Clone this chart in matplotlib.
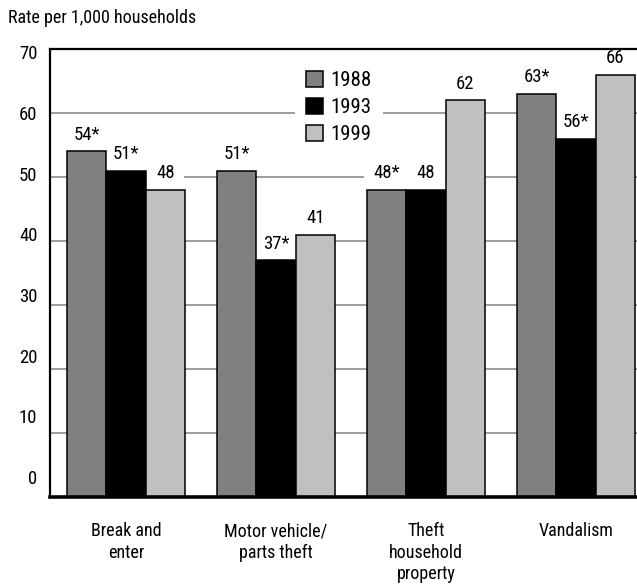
import numpy as np
import matplotlib
matplotlib.use("Agg")
import matplotlib.pyplot as plt
from matplotlib import font_manager

# prefer a narrow sans face when one is installed
installed = {f.name for f in font_manager.fontManager.ttflist}
family = "Liberation Sans"
for cand in ["Liberation Sans Narrow", "Roboto Condensed", "Open Sans Condensed",
             "Arial Narrow", "Nimbus Sans Narrow"]:
    if cand in installed:
        family = cand
        break
else:
    cond = [f for f in font_manager.fontManager.ttflist
            if f.name == "DejaVu Sans" and str(f.stretch) in ("condensed", "semi-condensed", "500")]
    if cond:
        family = "DejaVu Sans"
        plt.rcParams['font.stretch'] = "condensed"
plt.rcParams['font.family'] = [family, 'DejaVu Sans']

# Household victimization rates, per 1,000 households
categories = ["Break and\nenter", "Motor vehicle/\nparts theft",
              "Theft\nhousehold\nproperty", "Vandalism"]
years = ["1988", "1993", "1999"]
rates = {
    "1988": [54, 51, 48, 63],
    "1993": [51, 37, 48, 56],
    "1999": [48, 41, 62, 66],
}
# asterisk marks a significant difference from 1999
flagged = {
    "1988": [True, True, True, True],
    "1993": [True, True, False, True],
    "1999": [False, False, False, False],
}
colors = {"1988": "#808080", "1993": "#000000", "1999": "#c0c0c0"}
y_values = [0, 10, 20, 30, 40, 50, 60, 70]

fig = plt.figure(figsize=(6.37, 5.85), dpi=100)
ax = fig.add_axes([50 / 637, 88 / 585, 587 / 637, 448 / 585])

x = np.arange(len(categories))
w = 0.263
for k, yr in enumerate(years):
    pos = x + (k - 1) * w
    # bars sit above the white label boxes so their outlines stay whole
    ax.bar(pos, rates[yr], width=w, color=colors[yr], edgecolor="black",
           linewidth=1.1, label=yr, zorder=6)
    for xi, v, f in zip(pos, rates[yr], flagged[yr]):
        ax.annotate("%d%s" % (v, "*" if f else ""), (xi, v), xytext=(0, 12),
                    textcoords="offset points", ha="center", va="center",
                    fontsize=13.5, zorder=5,
                    bbox=dict(boxstyle="square,pad=0.5", fc="white", ec="none"))

# gridlines sit behind the bars and the label boxes
for v in y_values[1:-1]:
    ax.axhline(v, color="#8c8c8c", linewidth=1.2, zorder=1)

ax.set_ylim(0, 70)
ax.set_xlim(-0.507, 3.407)

# tick labels are set a little tighter than the grid
ax.set_yticks([3.1 + v * 0.948 for v in y_values])
ax.set_yticklabels([str(v) for v in y_values], fontsize=13.5)
ax.tick_params(axis="y", length=0, pad=9)

ax.set_xticks(x)
ax.set_xticklabels(categories, fontsize=13, linespacing=1.25, va="top")
ax.tick_params(axis="x", length=0, pad=18)

for side in ["top", "left"]:
    ax.spines[side].set_linewidth(1.6)
ax.spines["bottom"].set_linewidth(2.6)
ax.spines["right"].set_visible(False)
for sp in ax.spines.values():
    sp.set_zorder(8)

leg = ax.legend(loc="upper left", bbox_to_anchor=(285 / 637, 1 - 50 / 585),
                bbox_transform=fig.transFigure, fontsize=15, frameon=True,
                fancybox=False, edgecolor="none", facecolor="white",
                framealpha=1, handlelength=0.8, handleheight=0.8,
                handletextpad=0.4, labelspacing=0.38, borderpad=0.5)
leg.set_zorder(7)

fig.text(8 / 637, 1 - 18 / 585, "Rate per 1,000 households", fontsize=13,
         ha="left", va="center")

fig.savefig("out.png", dpi=100)
